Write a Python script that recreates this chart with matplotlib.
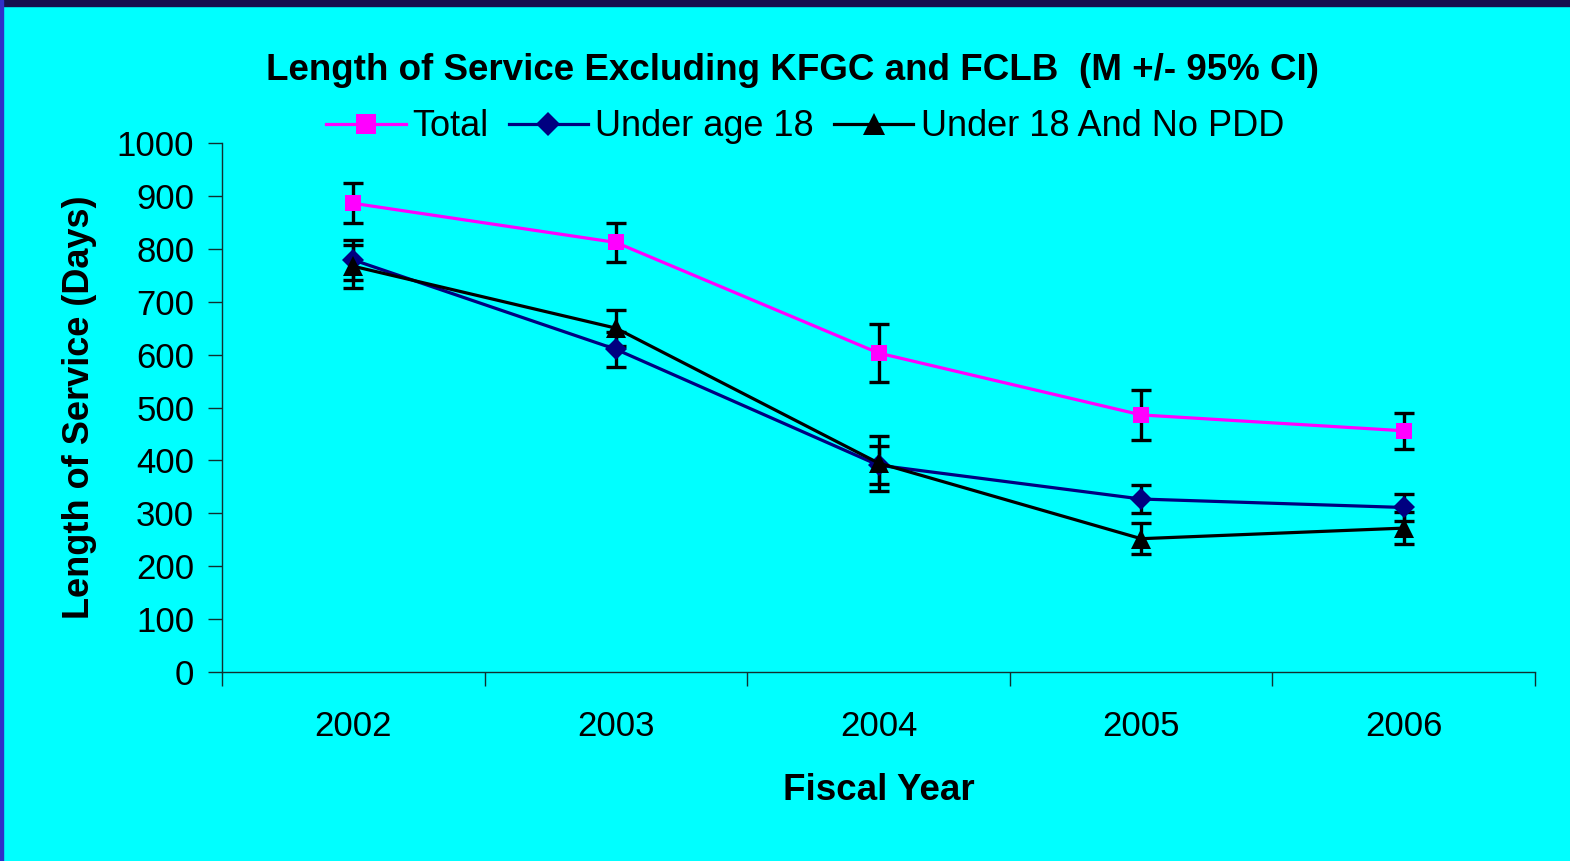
import matplotlib
matplotlib.use("Agg")
import matplotlib.pyplot as plt
import numpy as np

years = ["2002", "2003", "2004", "2005", "2006"]
total = [886, 812, 603, 486, 456]
total_err = [38, 37, 55, 47, 34]
under18 = [779, 610, 391, 327, 311]
under18_err = [38, 33, 36, 26, 25]
nopdd = [767, 650, 395, 252, 272]
nopdd_err = [41, 34, 52, 29, 30]

plt.rcParams['font.family'] = ['Liberation Sans', 'DejaVu Sans']

W, H = 1570, 861
fig = plt.figure(figsize=(W / 100, H / 100), dpi=100)
fig.patch.set_facecolor('#00FFFF')

# border strips
fig.add_artist(plt.Rectangle((0, 1 - 6 / H), 1, 6 / H, transform=fig.transFigure,
                             color='#16124f', zorder=0))
fig.add_artist(plt.Rectangle((0, 0), 3 / W, 1, transform=fig.transFigure,
                             color='#3030c8', zorder=0))

ax = fig.add_axes([222 / W, 1 - 672 / H, (1535 - 222) / W, (672 - 143) / H])
ax.set_facecolor('none')
x = np.arange(len(years))

ekw = dict(ecolor='black', elinewidth=2.4, capsize=7.5, capthick=2.4, zorder=2)
ax.errorbar(x, total, yerr=total_err, fmt='none', **ekw)
ax.errorbar(x, under18, yerr=under18_err, fmt='none', **ekw)
ax.errorbar(x, nopdd, yerr=nopdd_err, fmt='none', **ekw)

l1, = ax.plot(x, total, color='#FF00FF', lw=2.3, marker='s', markersize=12,
              markeredgewidth=0, label='Total', zorder=3)
l2, = ax.plot(x, under18, color='#000080', lw=2.3, marker='D', markersize=11,
              markeredgewidth=0, label='Under age 18', zorder=3)
l3, = ax.plot(x, nopdd, color='black', lw=2.3, marker='^', markersize=14,
              markeredgewidth=0, label='Under 18 And No PDD', zorder=4)

ax.set_xlim(-0.5, len(years) - 0.5)
ax.set_ylim(0, 1000)
ax.set_yticks(np.arange(0, 1001, 100))
ax.set_xticks(np.arange(-0.5, len(years), 1.0))
ax.set_xticklabels([])
ax.set_xticks(x, minor=True)
ax.set_xticklabels(years, minor=True)
ax.tick_params(axis='x', which='minor', length=0, pad=27, labelsize=25)
ax.tick_params(axis='x', which='major', length=10, width=1, direction='out', color='#103030')
ax.tick_params(axis='y', length=10, width=1, direction='out', labelsize=25, pad=10, color='#103030')

for s in ['top', 'right']:
    ax.spines[s].set_visible(False)
for s in ['left', 'bottom']:
    ax.spines[s].set_color('#103030')
    ax.spines[s].set_linewidth(1)

ax.set_xlabel('Fiscal Year', fontsize=26.5, fontweight='bold', labelpad=22)
ax.set_ylabel('Length of Service (Days)', fontsize=26, fontweight='bold', labelpad=14)

fig.text(793 / W, 1 - 70 / H, 'Length of Service Excluding KFGC and FCLB  (M +/- 95% CI)',
         ha='center', va='center', fontsize=26.5, fontweight='bold')

fig.legend(handles=[l1, l2, l3], loc='center', bbox_to_anchor=(805 / W, 1 - 127 / H),
           ncol=3, frameon=False, fontsize=26, handlelength=2.2, handletextpad=0.2,
           columnspacing=0.55, markerscale=1.15)

fig.savefig('out.png', dpi=100, facecolor=fig.get_facecolor())
